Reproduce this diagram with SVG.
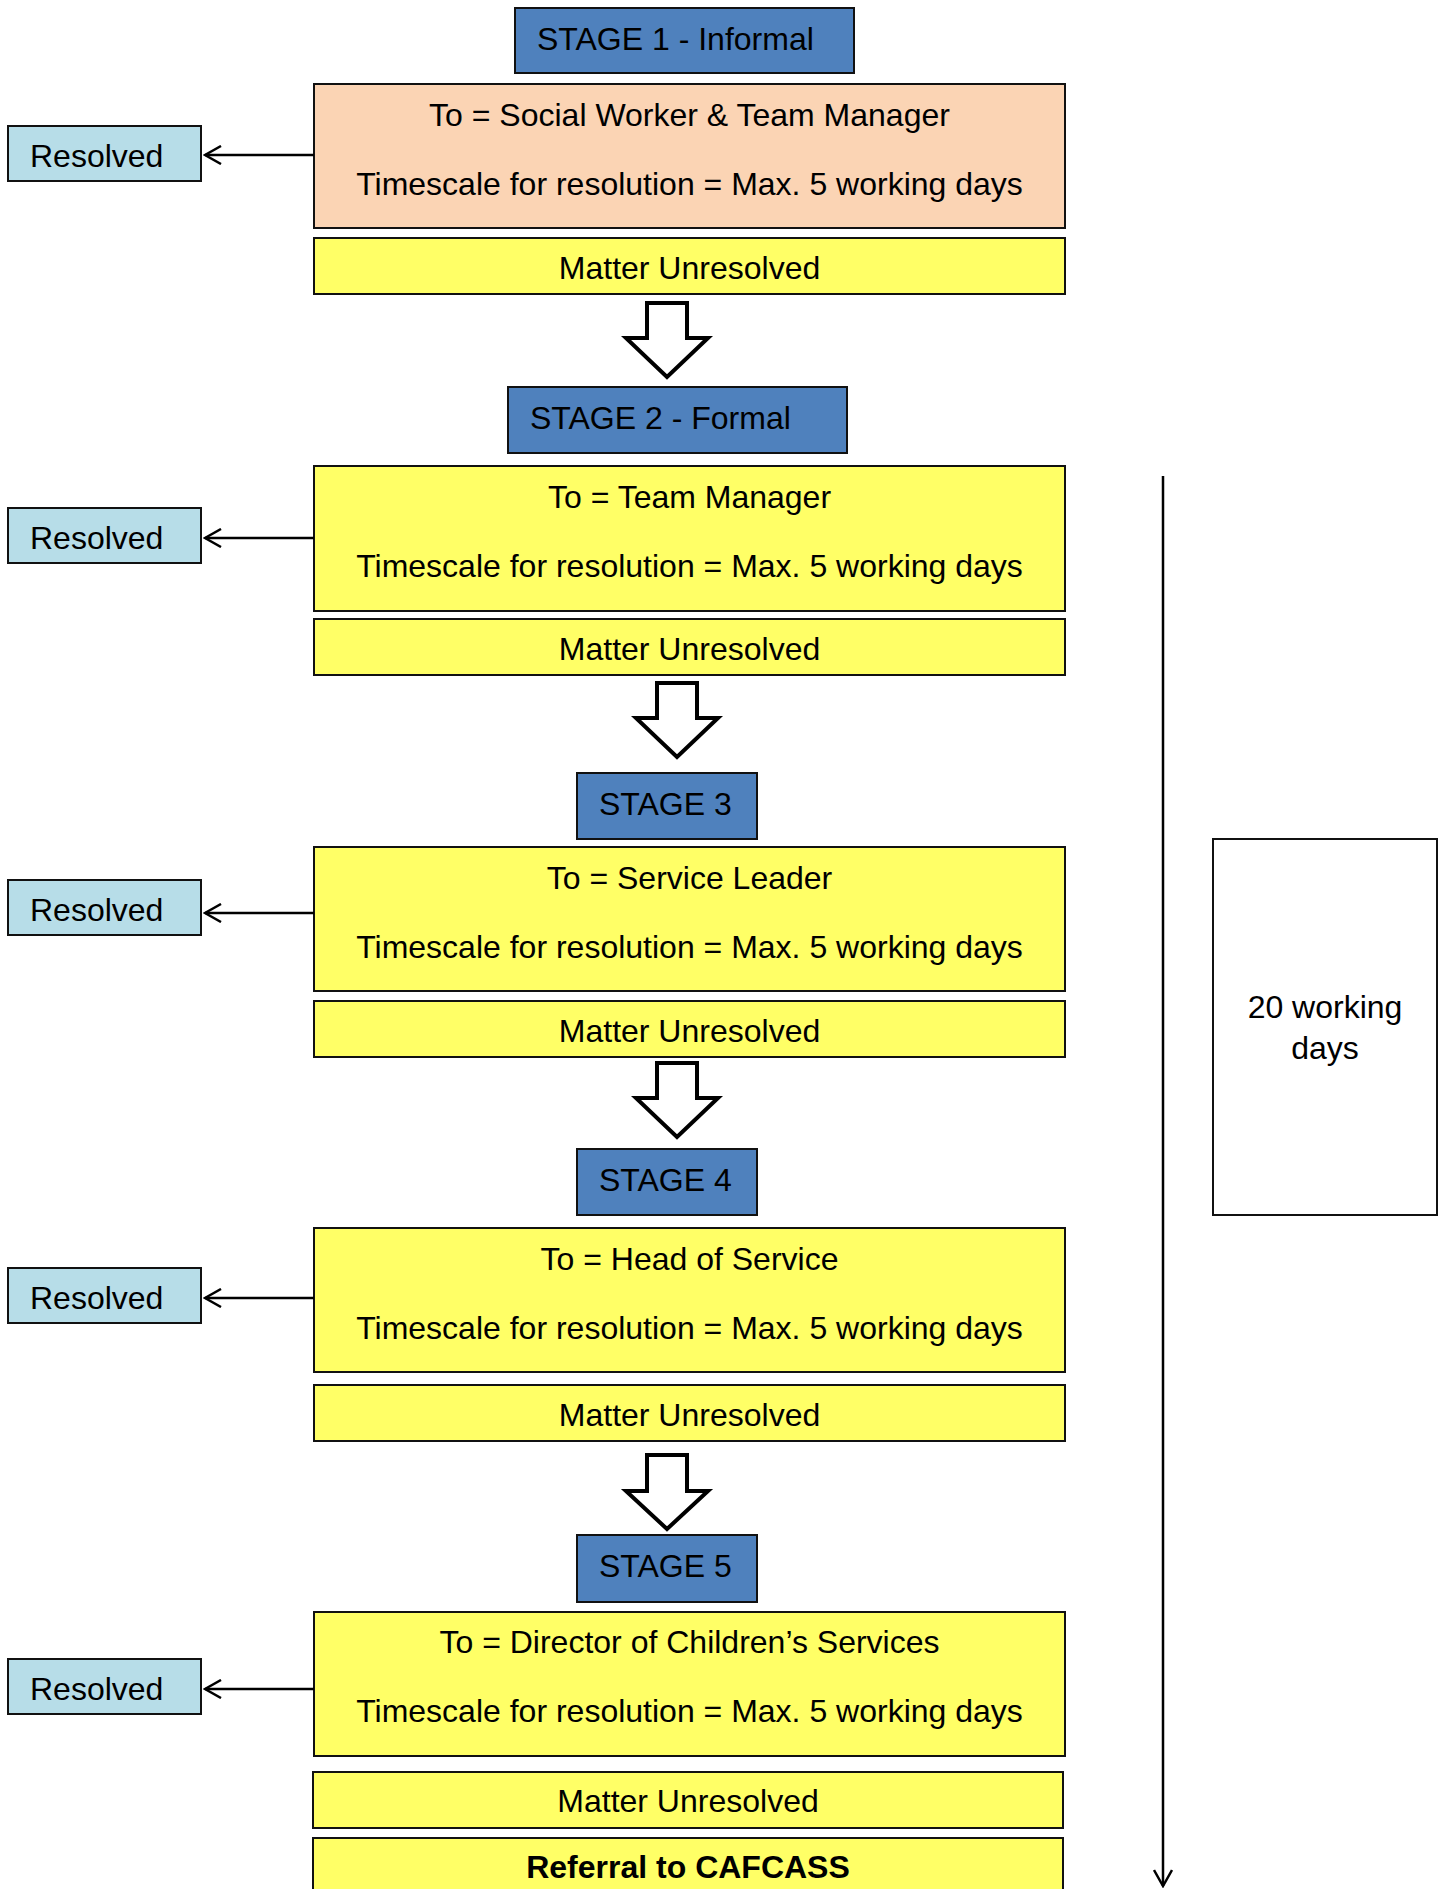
<svg xmlns="http://www.w3.org/2000/svg" width="1444" height="1889" viewBox="0 0 1444 1889">
<defs>
<style>
text{font-family:"Liberation Sans",Arial,sans-serif;font-size:32px;fill:#000}
.c{text-anchor:middle}
.b{font-weight:bold}
.stage{fill:#4F81BD;stroke:#111;stroke-width:2}
.box{fill:#FFFF66;stroke:#111;stroke-width:2}
.orange{fill:#FBD4B4;stroke:#111;stroke-width:2}
.res{fill:#B7DDE8;stroke:#111;stroke-width:2}
.plain{fill:#fff;stroke:#111;stroke-width:2}
.blk{fill:#fff;stroke:#000;stroke-width:4;stroke-linejoin:miter}
.ln{stroke:#000;stroke-width:2.5;fill:none}
</style>
<marker id="open" viewBox="0 0 20 20" refX="18" refY="10" markerWidth="20" markerHeight="20" markerUnits="userSpaceOnUse" orient="auto">
<path d="M2,1 L18,10 L2,19" fill="none" stroke="#000" stroke-width="2.5"/>
</marker>
</defs>
<rect width="1444" height="1889" fill="#fff"/>

<g id="stage1"><rect class="stage" x="515" y="8" width="339" height="65"/><text x="537" y="50">STAGE 1 - Informal</text></g>
<g id="box1"><rect class="orange" x="314" y="84" width="751" height="144"/><text class="c" x="689.5" y="126">To = Social Worker &amp; Team Manager</text><text class="c" x="689.5" y="195">Timescale for resolution = Max. 5 working days</text></g>
<g id="res1"><rect class="res" x="8" y="126" width="193" height="55"/><text x="30" y="167">Resolved</text></g>
<g id="mu1"><rect class="box" x="314" y="238" width="751" height="56"/><text class="c" x="689.5" y="279">Matter Unresolved</text></g>

<g id="stage2"><rect class="stage" x="508" y="387" width="339" height="66"/><text x="530" y="429">STAGE 2 - Formal</text></g>
<g id="box2"><rect class="box" x="314" y="466" width="751" height="145"/><text class="c" x="689.5" y="508">To = Team Manager</text><text class="c" x="689.5" y="577">Timescale for resolution = Max. 5 working days</text></g>
<g id="res2"><rect class="res" x="8" y="508" width="193" height="55"/><text x="30" y="549">Resolved</text></g>
<g id="mu2"><rect class="box" x="314" y="619" width="751" height="56"/><text class="c" x="689.5" y="660">Matter Unresolved</text></g>

<g id="stage3"><rect class="stage" x="577" y="773" width="180" height="66"/><text x="599" y="815">STAGE 3</text></g>
<g id="box3"><rect class="box" x="314" y="847" width="751" height="144"/><text class="c" x="689.5" y="889">To = Service Leader</text><text class="c" x="689.5" y="958">Timescale for resolution = Max. 5 working days</text></g>
<g id="res3"><rect class="res" x="8" y="880" width="193" height="55"/><text x="30" y="921">Resolved</text></g>
<g id="mu3"><rect class="box" x="314" y="1001" width="751" height="56"/><text class="c" x="689.5" y="1042">Matter Unresolved</text></g>

<g id="stage4"><rect class="stage" x="577" y="1149" width="180" height="66"/><text x="599" y="1191">STAGE 4</text></g>
<g id="box4"><rect class="box" x="314" y="1228" width="751" height="144"/><text class="c" x="689.5" y="1270">To = Head of Service</text><text class="c" x="689.5" y="1339">Timescale for resolution = Max. 5 working days</text></g>
<g id="res4"><rect class="res" x="8" y="1268" width="193" height="55"/><text x="30" y="1309">Resolved</text></g>
<g id="mu4"><rect class="box" x="314" y="1385" width="751" height="56"/><text class="c" x="689.5" y="1426">Matter Unresolved</text></g>

<g id="stage5"><rect class="stage" x="577" y="1535" width="180" height="67"/><text x="599" y="1577">STAGE 5</text></g>
<g id="box5"><rect class="box" x="314" y="1612" width="751" height="144"/><text class="c" x="689.5" y="1653">To = Director of Children’s Services</text><text class="c" x="689.5" y="1722">Timescale for resolution = Max. 5 working days</text></g>
<g id="res5"><rect class="res" x="8" y="1659" width="193" height="55"/><text x="30" y="1700">Resolved</text></g>
<g id="mu5"><rect class="box" x="313" y="1772" width="750" height="56"/><text class="c" x="688" y="1812">Matter Unresolved</text></g>
<g id="referral"><rect class="box" x="313" y="1838" width="750" height="60"/><text class="c b" x="688" y="1878">Referral to CAFCASS</text></g>

<g id="days"><rect class="plain" x="1213" y="839" width="224" height="376"/><text class="c" x="1325" y="1018">20 working</text><text class="c" x="1325" y="1059">days</text></g>

<g id="connectors">
<line class="ln" x1="314" y1="155" x2="205" y2="155" marker-end="url(#open)"/>
<line class="ln" x1="314" y1="538" x2="205" y2="538" marker-end="url(#open)"/>
<line class="ln" x1="314" y1="913" x2="205" y2="913" marker-end="url(#open)"/>
<line class="ln" x1="314" y1="1298" x2="205" y2="1298" marker-end="url(#open)"/>
<line class="ln" x1="314" y1="1689" x2="205" y2="1689" marker-end="url(#open)"/>
<line class="ln" x1="1163" y1="476" x2="1163" y2="1886" marker-end="url(#open)"/>
<path class="blk" d="M647,303 H687 V338 H708 L667,377 L626,338 H647 Z"/>
<path class="blk" d="M657,683 H697 V718 H718 L677,757 L636,718 H657 Z"/>
<path class="blk" d="M657,1063 H697 V1098 H718 L677,1137 L636,1098 H657 Z"/>
<path class="blk" d="M647,1455 H687 V1491 H708 L667,1529 L626,1491 H647 Z"/>
</g>
</svg>
